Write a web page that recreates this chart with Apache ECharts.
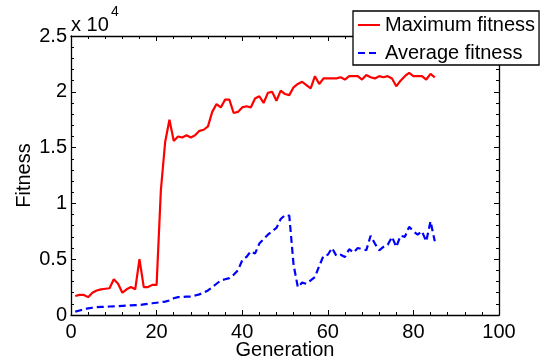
<!DOCTYPE html>
<html><head><meta charset="utf-8">
<script src="https://cdn.jsdelivr.net/npm/echarts@6/dist/echarts.min.js"></script>
<style>html,body{margin:0;padding:0;background:#fff}#c{width:545px;height:360px}</style>
</head><body><div id="c"></div>
<script>
const generations = [1,2,3,4,5,6,7,8,9,10,11,12,13,14,15,16,17,18,19,20,21,22,23,24,25,26,27,28,29,30,31,32,33,34,35,36,37,38,39,40,41,42,43,44,45,46,47,48,49,50,51,52,53,54,55,56,57,58,59,60,61,62,63,64,65,66,67,68,69,70,71,72,73,74,75,76,77,78,79,80,81,82,83,84,85];
const maxFitness = [1700,1800,1800,1600,2000,2200,2300,2350,2400,3200,2800,2000,2300,2500,2300,5000,2500,2500,2700,2700,11200,15500,17500,15600,16000,15900,16100,15900,16100,16500,16600,16900,18200,18900,18600,19300,19300,18100,18200,18600,18700,18600,19400,19600,19000,19900,20000,19200,20100,19800,19700,20400,20700,20900,20600,20300,21400,20700,21200,21200,21200,21200,21300,21100,21400,21400,21400,21100,21500,21300,21200,21400,21300,21400,21200,20500,21000,21400,21700,21400,21400,21400,21100,21600,21300];
const avgFitness = [300,400,500,600,650,700,720,740,760,780,800,820,840,860,880,900,950,1000,1050,1100,1150,1200,1300,1500,1600,1600,1650,1650,1750,1850,2000,2200,2500,2800,3100,3200,3300,3600,4000,4900,5200,5700,5500,6400,6800,7200,7500,7800,8600,8950,8900,4500,2500,2900,2800,3100,3400,4400,5300,5400,6000,5300,5400,5200,5900,5600,6000,5900,5800,7100,6400,5800,6100,6300,7000,6100,7100,7000,7900,7500,7200,7500,6600,8400,6600];
const xTicks = [0,20,40,60,80,100];
const yTickLabels = ['0','0.5','1','1.5','2','2.5'];
const seriesNames = ['Maximum fitness','Average fitness'];
const xName = 'Generation', yName = 'Fitness';

const FONT = "'Liberation Sans', Arial, Helvetica, sans-serif";
const pairs = arr => generations.map((g,i)=>[g, arr[i]]);
const chart = echarts.init(document.getElementById('c'));
const axisCommon = {
  axisLine:{show:true, onZero:false, lineStyle:{color:'#000', width:1.3}},
  axisTick:{show:true, inside:true, length:5, lineStyle:{color:'#000', width:1}},
  minorTick:{show:true, splitNumber:5, length:3, lineStyle:{color:'#000', width:1}},
  splitLine:{show:false}
};
chart.setOption({
  animation:false,
  backgroundColor:'#fff',
  grid:{left:71, right:46, top:36, bottom:45, containLabel:false, outerBoundsMode:'none'},
  xAxis:[
    Object.assign({type:'value', min:xTicks[0], max:xTicks[xTicks.length-1], interval:20, position:'bottom',
      name:xName, nameLocation:'middle', nameGap:25, nameMoveOverlap:false,
      nameTextStyle:{fontFamily:FONT, fontSize:20, color:'#000'},
      axisLabel:{fontFamily:FONT, fontSize:20, color:'#000', margin:7}}, axisCommon),
    Object.assign({type:'value', min:xTicks[0], max:xTicks[xTicks.length-1], interval:20, position:'top',
      axisLabel:{show:false}}, axisCommon)
  ],
  yAxis:[
    Object.assign({type:'value', min:0, max:25000, interval:5000, position:'left',
      name:yName, nameLocation:'middle', nameGap:37, nameRotate:90, nameMoveOverlap:false,
      nameTextStyle:{fontFamily:FONT, fontSize:20, color:'#000'},
      axisLabel:{fontFamily:FONT, fontSize:20, color:'#000', margin:4,
        formatter:(v)=>yTickLabels[Math.round(v/5000)]}}, axisCommon),
    Object.assign({type:'value', min:0, max:25000, interval:5000, position:'right',
      axisLabel:{show:false}}, axisCommon)
  ],
  legend:{
    orient:'vertical', left:353, top:11, width:191,
    padding:[4,4,2,4], itemGap:8, itemWidth:22, itemHeight:14,
    backgroundColor:'#fff', borderColor:'#000', borderWidth:1.3, borderRadius:0,
    itemStyle:{opacity:0},
    textStyle:{fontFamily:FONT, fontSize:20, color:'#000', lineHeight:20},
    data:seriesNames
  },
  graphic:[
    {type:'text', left:71, top:15, style:{text:'x 10', font:'20px '+FONT, fill:'#000'}},
    {type:'text', left:111, top:5, style:{text:'4', font:'14px '+FONT, fill:'#000'}}
  ],
  series:[
    {name:seriesNames[0], type:'line', data:pairs(maxFitness), symbol:'none',
      lineStyle:{color:'#ff0000', width:2.2}, itemStyle:{color:'#ff0000'}},
    {name:seriesNames[1], type:'line', data:pairs(avgFitness), symbol:'none',
      lineStyle:{color:'#0000ff', width:2.2, type:[7,4]}, itemStyle:{color:'#0000ff'}}
  ]
});
</script></body></html>
